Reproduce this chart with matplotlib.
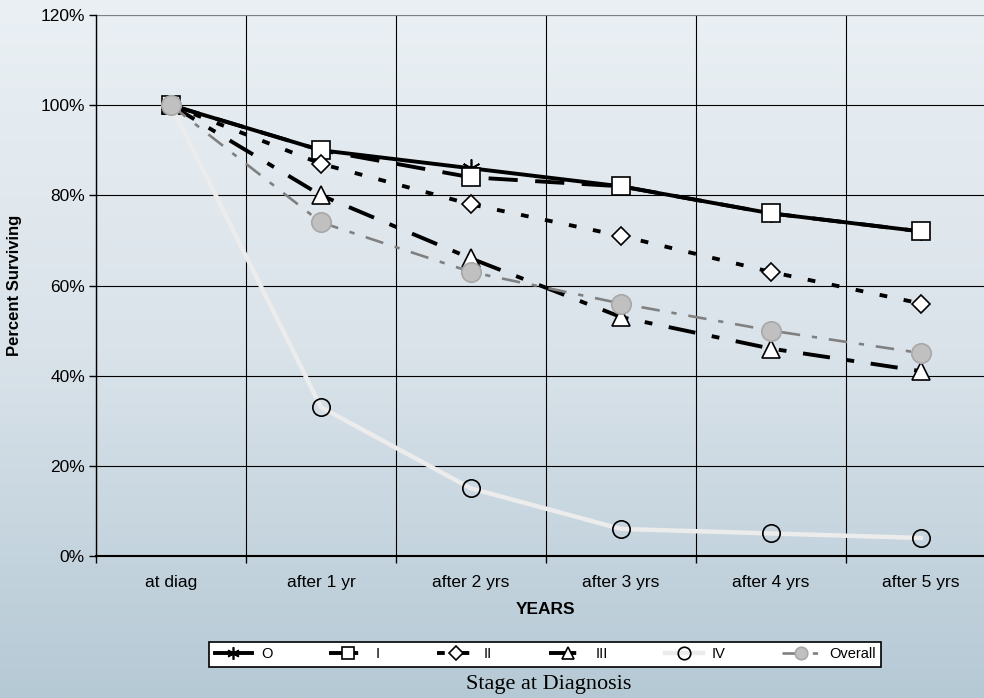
import numpy as np
import matplotlib
matplotlib.use("Agg")
import matplotlib.pyplot as plt
from matplotlib.lines import Line2D
from matplotlib.colors import LinearSegmentedColormap

# -----------------------------
# Data
# -----------------------------
years = ["at diag", "after 1 yr", "after 2 yrs", "after 3 yrs", "after 4 yrs", "after 5 yrs"]
stage_o = [100, 90, 86, 82, 76, 72]
stage_i = [100, 90, 84, 82, 76, 72]
stage_ii = [100, 87, 78, 71, 63, 56]
stage_iii = [100, 80, 66, 53, 46, 41]
stage_iv = [100, 33, 15, 6, 5, 4]
overall = [100, 74, 63, 56, 50, 45]
yticks = [0, 20, 40, 60, 80, 100, 120]

plt.rcParams['font.family'] = ['Liberation Sans', 'DejaVu Sans']

W, H = 984, 698
fig = plt.figure(figsize=(W / 100, H / 100), dpi=100)

# -----------------------------
# Background gradient
# -----------------------------
bg = fig.add_axes([0, 0, 1, 1], zorder=-10)
cmap = LinearSegmentedColormap.from_list("bg", ["#eaf0f4", "#dae3ea", "#b5c9d5"])
grad = np.linspace(0, 1, 256).reshape(-1, 1)
bg.imshow(grad, aspect="auto", cmap=cmap, extent=[0, 1, 0, 1], origin="upper")
bg.axis("off")

# -----------------------------
# Main axes
# -----------------------------
left, right, top, bottom = 96, 996, 15, 556
ax = fig.add_axes([left / W, 1 - bottom / H, (right - left) / W, (bottom - top) / H])
ax.patch.set_alpha(0)

x = np.arange(len(years))

# styles
st_o = dict(color="black", lw=2.8, marker=(6, 2, 0), mew=1.2, mec="black")
st_i = dict(color="black", lw=2.8, dashes=(7.5, 4.5), marker="s",
            mfc="white", mec="black", mew=1.2)
st_ii = dict(color="black", lw=2.8, dashes=(2.0, 4.3), marker="D",
             mfc="white", mec="black", mew=1.2)
st_iii = dict(color="black", lw=2.8, dashes=(7.0, 4.3, 2.0, 4.3), marker="^",
              mfc="white", mec="black", mew=1.2)
st_iv = dict(color="#ececec", lw=3.2, marker="o", mfc="none", mec="black", mew=1.2)
st_all = dict(color="#808080", lw=1.9, dashes=(7, 4.5, 2, 4.5), marker="o",
              mfc="#c0c0c0", mec="#a8a8a8", mew=1.2)

ax.plot(x, stage_o, ms=13, zorder=3, **st_o)
ax.plot(x, stage_i, ms=13, zorder=4, **st_i)
ax.plot(x, stage_ii, ms=9.5, zorder=4, **st_ii)
ax.plot(x, stage_iii, ms=13, zorder=4, **st_iii)
ax.plot(x, stage_iv, ms=12.5, zorder=4, **st_iv)
ax.plot(x, overall, ms=14, zorder=5, **st_all)

ax.set_xlim(-0.5, 5.5)
ax.set_ylim(0, 120)
ax.set_yticks(yticks)
ax.set_yticklabels([f"{v}%" for v in yticks], fontsize=12.5)
ax.set_xticks(x)
ax.set_xticklabels(years, fontsize=12.5)
ax.tick_params(axis="x", length=0, pad=14)
ax.tick_params(axis="y", length=5, width=1, direction="out", pad=3)

# category boundary ticks / vertical gridlines
ax.set_xticks(np.arange(-0.5, 6.0, 1.0), minor=True)
ax.tick_params(axis="x", which="minor", length=5, width=1, direction="out")
ax.grid(True, which="minor", axis="x", color="black", lw=0.8)
ax.grid(True, which="major", axis="y", color="black", lw=0.8)
ax.set_axisbelow(True)

for s in ["top", "right"]:
    ax.spines[s].set_visible(False)
ax.spines["left"].set_linewidth(1)
ax.spines["bottom"].set_linewidth(1.5)
ax.axhline(120, color="#999999", lw=1.2, zorder=1)

ax.set_ylabel("Percent Surviving", fontsize=12, fontweight="bold", labelpad=13)
ax.set_xlabel("YEARS", fontsize=12.5, fontweight="bold", labelpad=8)

# -----------------------------
# Legend
# -----------------------------
handles = [
    Line2D([], [], ms=9, **st_o),
    Line2D([], [], ms=9, **st_i),
    Line2D([], [], ms=7, **st_ii),
    Line2D([], [], ms=9, **st_iii),
    Line2D([], [], ms=9, **st_iv),
    Line2D([], [], ms=9, **st_all),
]
labels = ["O", "I", "II", "III", "IV", "Overall"]
leg = fig.legend(handles, labels, loc="center", bbox_to_anchor=(545 / W, 1 - 654.5 / H),
                 ncol=6, fontsize=10.5, frameon=True, fancybox=False, edgecolor="black",
                 handlelength=2.6, columnspacing=3.9, handletextpad=0.6,
                 borderpad=0.35)
leg.get_frame().set_facecolor("white")
leg.get_frame().set_alpha(1)
leg.get_frame().set_linewidth(1.2)

fig.text(549 / W, 1 - 684 / H, "Stage at Diagnosis", ha="center", va="center",
         fontsize=16, family=["Liberation Serif", "DejaVu Serif"])

plt.savefig("out.png", dpi=100)
